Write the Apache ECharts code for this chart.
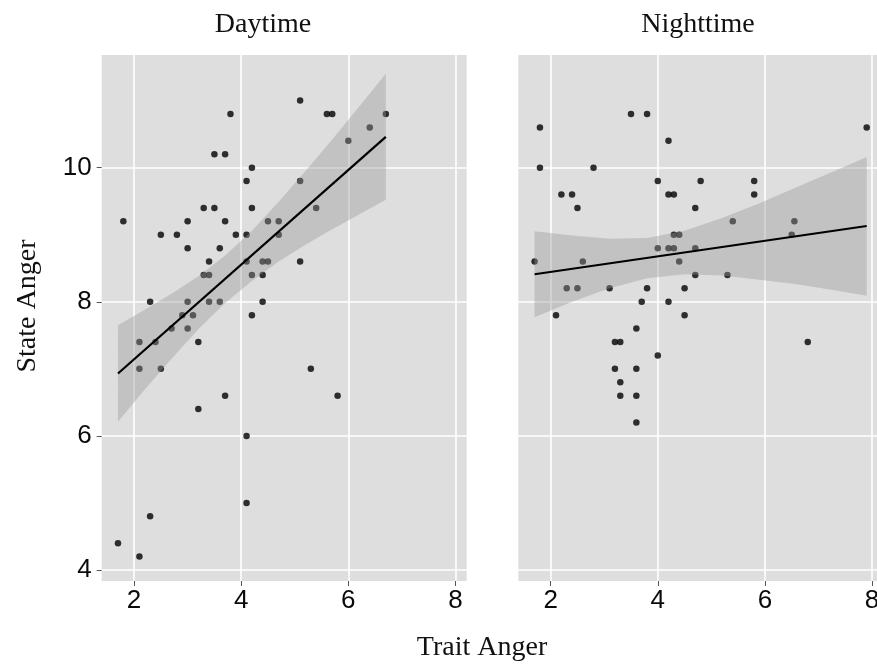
<!DOCTYPE html>
<html>
<head>
<meta charset="utf-8">
<script src="https://cdn.jsdelivr.net/npm/echarts@6/dist/echarts.min.js"></script>
<style>
  html, body { margin: 0; padding: 0; background: #ffffff; overflow: hidden; width: 877px; height: 665px; }
  #chart { width: 886px; height: 665px; }
</style>
</head>
<body>
<div id="chart"></div>
<script>
// ---- Data ----
const panelTitles = ['Daytime', 'Nighttime'];
const xAxisTitle = 'Trait Anger';
const yAxisTitle = 'State Anger';
const xTicks = [2, 4, 6, 8];
const yTicks = [4, 6, 8, 10];

const dayX = [1.8, 3.8, 5.1, 5.6, 5.7, 6.7, 6.4, 6.0, 3.5, 3.7, 4.2, 4.1, 5.1, 3.3, 3.5, 4.2, 5.4,
  3.0, 3.7, 4.5, 4.7, 2.5, 2.8, 3.9, 4.1, 4.7, 3.0, 3.6, 3.4, 4.1, 4.4, 4.5, 5.1, 3.3, 3.4, 4.2,
  4.4, 2.3, 3.0, 3.4, 3.6, 4.4, 2.9, 3.1, 4.2, 2.7, 3.0, 2.1, 2.4, 3.2, 2.1, 2.5, 5.3, 3.7, 5.8,
  3.2, 4.1, 4.1, 2.3, 1.7, 2.1];
const dayY = [9.2, 10.8, 11.0, 10.8, 10.8, 10.8, 10.6, 10.4, 10.2, 10.2, 10.0, 9.8, 9.8, 9.4, 9.4, 9.4, 9.4,
  9.2, 9.2, 9.2, 9.2, 9.0, 9.0, 9.0, 9.0, 9.0, 8.8, 8.8, 8.6, 8.6, 8.6, 8.6, 8.6, 8.4, 8.4, 8.4,
  8.4, 8.0, 8.0, 8.0, 8.0, 8.0, 7.8, 7.8, 7.8, 7.6, 7.6, 7.4, 7.4, 7.4, 7.0, 7.0, 7.0, 6.6, 6.6,
  6.4, 6.0, 5.0, 4.8, 4.4, 4.2];

const nightX = [1.8, 1.8, 3.5, 3.8, 7.9, 4.2, 2.8, 4.0, 4.8, 5.8, 2.2, 2.4, 4.2, 4.3, 5.8, 2.5, 4.7,
  5.4, 6.55, 6.5, 4.3, 4.4, 4.0, 4.2, 4.3, 4.7, 1.7, 2.6, 4.4, 4.7, 5.3, 2.3, 2.5, 3.1, 3.8, 4.5,
  3.7, 4.2, 2.1, 4.5, 3.6, 3.2, 3.3, 6.8, 4.0, 3.2, 3.6, 3.3, 3.3, 3.6, 3.6];
const nightY = [10.6, 10.0, 10.8, 10.8, 10.6, 10.4, 10.0, 9.8, 9.8, 9.8, 9.6, 9.6, 9.6, 9.6, 9.6, 9.4, 9.4,
  9.2, 9.2, 9.0, 9.0, 9.0, 8.8, 8.8, 8.8, 8.8, 8.6, 8.6, 8.6, 8.4, 8.4, 8.2, 8.2, 8.2, 8.2, 8.2,
  8.0, 8.0, 7.8, 7.8, 7.6, 7.4, 7.4, 7.4, 7.2, 7.0, 7.0, 6.8, 6.6, 6.6, 6.2];

// fitted lines (end points)
const dayFitX = [1.7, 6.7];
const dayFitY = [6.93, 10.46];
const nightFitX = [1.7, 7.9];
const nightFitY = [8.41, 9.13];

// confidence bands (edges)
const dayBandX = [1.7, 2.2, 2.7, 3.2, 3.7, 4.2, 4.7, 5.2, 5.7, 6.2, 6.7];
const dayBandUpper = [7.65, 7.88, 8.12, 8.38, 8.69, 9.06, 9.49, 9.95, 10.42, 10.91, 11.40];
const dayBandLower = [6.21, 6.69, 7.15, 7.59, 7.98, 8.31, 8.60, 8.85, 9.08, 9.30, 9.52];

const nightBandX = [1.7, 2.4, 3.1, 3.8, 4.5, 5.2, 5.9, 6.6, 7.3, 7.9];
const nightBandUpper = [9.05, 8.99, 8.94, 8.95, 9.06, 9.25, 9.47, 9.71, 9.95, 10.16];
const nightBandLower = [7.77, 8.00, 8.20, 8.35, 8.41, 8.39, 8.33, 8.26, 8.17, 8.09];

// ---- Chart ----
const chart = echarts.init(document.getElementById('chart'), null, { renderer: 'canvas' });

const X_MIN = 1.396, X_MAX = 8.21;
const Y_MIN = 3.836, Y_MAX = 11.68;
const PANEL_BG = '#DEDEDE';
const SANS = '"Liberation Sans", Arial, sans-serif';
const SERIF = '"Liberation Serif", "Times New Roman", serif';

function makeX(gridIndex) {
  return {
    type: 'value', gridIndex: gridIndex, min: X_MIN, max: X_MAX,
    axisLine: { show: false },
    axisTick: { show: true, length: 5, lineStyle: { color: '#555', width: 1 }, customValues: xTicks },
    axisLabel: { show: true, margin: 7, fontSize: 26, color: '#0a0a0a', fontFamily: SANS, customValues: xTicks, hideOverlap: false },
    splitLine: { show: true, lineStyle: { color: '#ffffff', width: 1.6 } },
    minorSplitLine: { show: false }
  };
}
function makeY(gridIndex, showLabels) {
  return {
    type: 'value', gridIndex: gridIndex, min: Y_MIN, max: Y_MAX,
    axisLine: { show: false },
    axisTick: { show: showLabels, length: 5, lineStyle: { color: '#555', width: 1 }, customValues: yTicks },
    axisLabel: { show: showLabels, margin: 10, fontSize: 26, color: '#0a0a0a', fontFamily: SANS, customValues: yTicks },
    splitLine: { show: true, lineStyle: { color: '#ffffff', width: 1.6 } }
  };
}

function bandSeries(idx, bx, up, lo) {
  return {
    type: 'custom', xAxisIndex: idx, yAxisIndex: idx, z: 3, silent: true,
    data: [[bx[0], up[0]]],
    renderItem: function (params, api) {
      const pts = [];
      for (let i = 0; i < bx.length; i++) pts.push(api.coord([bx[i], up[i]]));
      for (let i = bx.length - 1; i >= 0; i--) pts.push(api.coord([bx[i], lo[i]]));
      return {
        type: 'polygon',
        shape: { points: pts },
        style: { fill: 'rgba(153,153,153,0.4)', stroke: 'none' }
      };
    }
  };
}
function scatterSeries(idx, xs, ys) {
  return {
    type: 'scatter', xAxisIndex: idx, yAxisIndex: idx, z: 2, silent: true,
    symbol: 'circle', symbolSize: 6.5,
    itemStyle: { color: '#000000' },
    data: xs.map((x, i) => [x, ys[i]])
  };
}
function lineSeries(idx, xs, ys) {
  return {
    type: 'line', xAxisIndex: idx, yAxisIndex: idx, z: 4, silent: true,
    showSymbol: false, symbol: 'none',
    lineStyle: { color: '#000000', width: 2.2 },
    data: xs.map((x, i) => [x, ys[i]])
  };
}

const option = {
  animation: false,
  backgroundColor: '#ffffff',
  grid: [
    { left: 101.7, top: 55, width: 365, height: 526, show: true, backgroundColor: PANEL_BG, borderWidth: 0, containLabel: false },
    { left: 518.3, top: 55, width: 365, height: 526, show: true, backgroundColor: PANEL_BG, borderWidth: 0, containLabel: false }
  ],
  xAxis: [makeX(0), makeX(1)],
  yAxis: [makeY(0, true), makeY(1, false)],
  graphic: [
    { type: 'text', x: 263, y: 24.5, style: { text: panelTitles[0], font: '28px ' + SERIF, fill: '#111', align: 'center', verticalAlign: 'middle' } },
    { type: 'text', x: 698, y: 24.5, style: { text: panelTitles[1], font: '28px ' + SERIF, fill: '#111', align: 'center', verticalAlign: 'middle' } },
    { type: 'text', x: 482, y: 647.5, style: { text: xAxisTitle, font: '28px ' + SERIF, fill: '#111', align: 'center', verticalAlign: 'middle' } },
    { type: 'text', x: 27.5, y: 306, rotation: Math.PI / 2, style: { text: yAxisTitle, font: '28px ' + SERIF, fill: '#111', align: 'center', verticalAlign: 'middle' } }
  ],
  series: [
    scatterSeries(0, dayX, dayY),
    bandSeries(0, dayBandX, dayBandUpper, dayBandLower),
    lineSeries(0, dayFitX, dayFitY),
    scatterSeries(1, nightX, nightY),
    bandSeries(1, nightBandX, nightBandUpper, nightBandLower),
    lineSeries(1, nightFitX, nightFitY)
  ]
};
chart.setOption(option);
</script>
</body>
</html>
